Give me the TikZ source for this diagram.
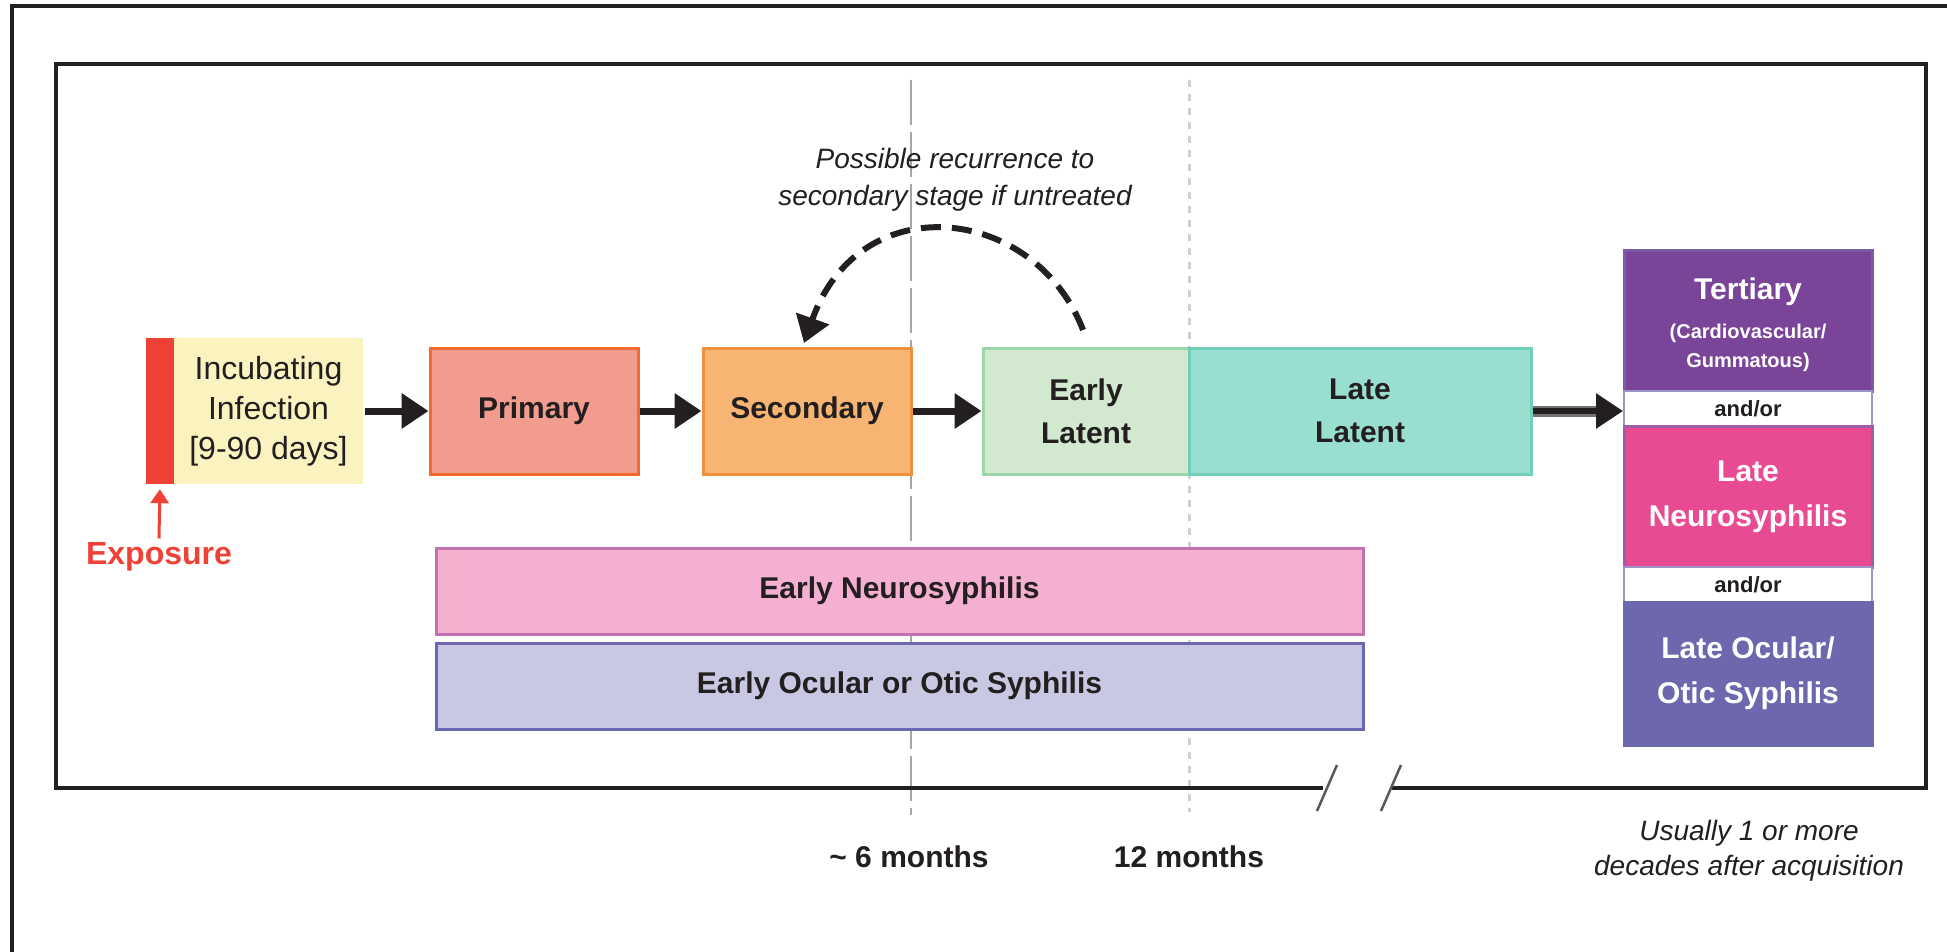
\documentclass[tikz,border=0pt]{standalone}
\usepackage{fontspec}
\setmainfont{Liberation Sans}
\usetikzlibrary{arrows.meta,calc}
\definecolor{txt}{HTML}{231F20}
\definecolor{expred}{HTML}{EF4136}
\definecolor{incfill}{HTML}{FAF3C0}
\definecolor{primfill}{HTML}{F19C8F}
\definecolor{primdraw}{HTML}{F26A2E}
\definecolor{secfill}{HTML}{F8B472}
\definecolor{secdraw}{HTML}{EE913C}
\definecolor{elfill}{HTML}{D2E8CF}
\definecolor{eldraw}{HTML}{9AD6A8}
\definecolor{llfill}{HTML}{98DFD0}
\definecolor{lldraw}{HTML}{6FCFBB}
\definecolor{tertfill}{HTML}{7A4599}
\definecolor{tertdraw}{HTML}{7B5BA5}
\definecolor{andordraw}{HTML}{9C93C8}
\definecolor{neurofill}{HTML}{E94B93}
\definecolor{neurodraw}{HTML}{9C5EA8}
\definecolor{ocfill}{HTML}{6D67AE}
\definecolor{enfill}{HTML}{F5AFD1}
\definecolor{endraw}{HTML}{C173AF}
\definecolor{eofill}{HTML}{C8C8E2}
\definecolor{eodraw}{HTML}{6C68B0}
\begin{document}
\begin{tikzpicture}[x=1pt,y=-1pt,
  box/.style={draw, line width=3pt, inner sep=0pt, align=center, text=txt},
  lab/.style={font=\fontsize{30}{43}\selectfont\bfseries},
  arr/.style={-{Triangle[length=27pt,width=34pt]}, line width=7pt, draw=txt},
  ital/.style={font=\fontsize{28}{37}\selectfont\itshape, text=txt, align=center},
  tl/.style={font=\fontsize{30}{36}\selectfont\bfseries, text=txt},
  slash/.style={line width=2.5pt, draw=black!65},
  ]
\useasboundingbox (0,0) rectangle (1947,952);
\fill[white] (0,0) rectangle (1947,952);

% time lines
\coordinate (sixtop) at (911,80);
\coordinate (sixbot) at (911,815);
\coordinate (twtop) at (1189,80);
\coordinate (twbot) at (1189,812);
\draw[line width=2.5pt, draw=black!35, dash pattern=on 45pt off 7pt] (sixtop) -- (sixbot);
\draw[line width=3pt, draw=black!18, dash pattern=on 7pt off 7pt] (twtop) -- (twbot);

% frames
\draw[line width=3.5pt, txt] (12,952) -- (12,6) -- (1947,6);
\draw[line width=4pt, txt, line join=miter] (1323,788) -- (56,788) -- (56,64) -- (1926,64) -- (1926,788) -- (1392,788);
\coordinate (s1a) at (1317,811);
\coordinate (s1b) at (1337,765);
\coordinate (s2a) at (1381,811);
\coordinate (s2b) at (1401,765);
\draw[slash] (s1a) -- (s1b);
\draw[slash] (s2a) -- (s2b);

% incubation
\node[fill=expred, minimum width=28pt, minimum height=146pt, inner sep=0pt] (redbar) at (160,411) {};
\node[box, draw=none, fill=incfill, minimum width=189pt, minimum height=146pt, font=\fontsize{32}{40}\selectfont] (inc) at (268.5,411) {Incubating\\Infection\\{}[9-90 days]};
\node[font=\fontsize{32}{38}\selectfont\bfseries, text=expred, inner sep=4pt] (expo) at (159,557) {Exposure};
\draw[-{Triangle[length=14pt,width=18pt]}, line width=3pt, expred, shorten >=5pt] (expo.north) -- (redbar.south);

% stages
\node[box, lab, fill=primfill, draw=primdraw, minimum width=208pt, minimum height=126pt] (prim) at (534,411) {Primary};
\node[box, lab, fill=secfill, draw=secdraw, minimum width=208pt, minimum height=126pt] (sec) at (807,411) {Secondary};
\node[box, lab, fill=elfill, draw=eldraw, minimum width=206pt, minimum height=126pt] (earlyl) at (1086,411) {Early\\Latent};
\node[box, lab, fill=llfill, draw=lldraw, minimum width=342pt, minimum height=126pt] (latel) at (1360,411) {Late\\Latent};

\draw[arr] (inc.east) -- (prim.west);
\draw[arr] (prim.east) -- (sec.west);
\draw[arr] (sec.east) -- (earlyl.west);

% right stack
\node[box, fill=tertfill, draw=tertdraw, minimum width=248pt, minimum height=140pt] (tert) at (1748,321) {};
\node[font=\fontsize{30}{36}\selectfont\bfseries, text=white] (tertT) at (1748,292) {Tertiary};
\node[font=\fontsize{20}{29}\selectfont\bfseries, text=white, align=center] (tertS) at (1748,348) {(Cardiovascular/\\Gummatous)};
\node[box, fill=white, draw=andordraw, line width=2pt, minimum width=248pt, minimum height=35pt, font=\fontsize{22}{25}\selectfont\bfseries] (andor1) at (1748,408.5) {and/or};
\node[box, lab, text=white, fill=neurofill, draw=neurodraw, minimum width=248pt, minimum height=141pt, font=\fontsize{30}{45}\selectfont\bfseries] (neuro) at (1748,496.5) {Late\\Neurosyphilis};
\node[box, fill=white, draw=andordraw, line width=2pt, minimum width=248pt, minimum height=35pt, font=\fontsize{22}{25}\selectfont\bfseries] (andor2) at (1748,584.5) {and/or};
\node[box, text=white, fill=ocfill, draw=ocfill, minimum width=248pt, minimum height=143pt, font=\fontsize{30}{45}\selectfont\bfseries] (ocul) at (1748,673.5) {Late Ocular/\\Otic Syphilis};

\draw[line width=11pt, draw=black!55, shorten >=22pt] (latel.east) -- (latel.east -| andor1.west);
\draw[-{Triangle[length=27pt,width=34pt]}, line width=6pt, draw=txt] (latel.east) -- (latel.east -| andor1.west);

% early bars
\node[box, lab, fill=enfill, draw=endraw, minimum width=927pt, minimum height=86pt] (eneuro) at (899.5,591) {Early Neurosyphilis};
\node[box, lab, fill=eofill, draw=eodraw, minimum width=927pt, minimum height=86pt] (eocul) at (899.5,686) {Early Ocular or Otic Syphilis};

% recurrence
\coordinate (arcS) at (1083,330);
\coordinate (arcE) at (804,343);
\draw[line width=6pt, draw=txt, dash pattern=on 20pt off 11pt, -{Triangle[length=26pt,width=34pt]}] (arcS) .. controls (1035,205) and (860,185) .. (arcE);
\node[ital] (recur) at (955,180) {Possible recurrence to\\secondary stage if untreated};

% time labels
\node[tl] (six) at (909,857) {\textasciitilde{} 6 months};
\node[tl] (twelve) at (1189,857) {12 months};
\node[ital, font=\fontsize{28}{35}\selectfont\itshape] (usually) at (1749,851) {Usually 1 or more\\decades after acquisition};
\end{tikzpicture}
\end{document}
